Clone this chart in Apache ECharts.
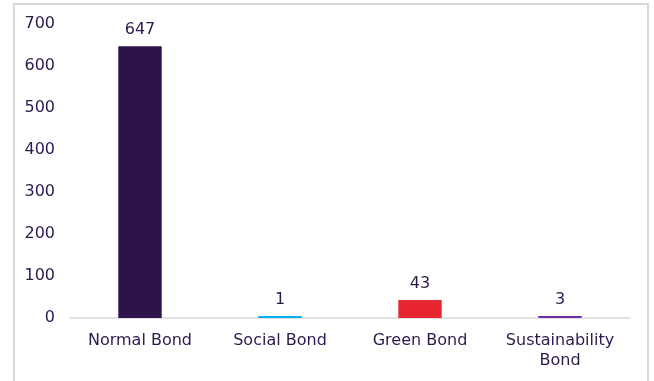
<!DOCTYPE html>
<html>
<head>
<meta charset="utf-8">
<script src="https://cdn.jsdelivr.net/npm/echarts@6/dist/echarts.min.js"></script>
<style>
  html, body { margin: 0; padding: 0; background: #fff; }
  #main { width: 654px; height: 381px; }
</style>
</head>
<body>
<div id="main"></div>
<script>
var categories = ['Normal Bond', 'Social Bond', 'Green Bond', 'Sustainability\nBond'];
var values = [647, 1, 43, 3];
var barColors = ['#2c1349', '#00b0f0', '#e8262f', '#7030a0'];

var chart = echarts.init(document.getElementById('main'));
var textColor = '#2c1a4f';
var font = 'DejaVu Sans';

var option = {
  animation: false,
  graphic: [{
    type: 'rect',
    shape: { x: 14, y: 4, width: 634, height: 400 },
    style: { fill: 'none', stroke: '#d9d9d9', lineWidth: 2 }
  }],
  grid: { left: 70, right: 24, top: 24, bottom: 63 },
  xAxis: {
    type: 'category',
    data: categories,
    axisLine: { lineStyle: { color: '#d9d9d9', width: 1.5 } },
    axisTick: { show: false },
    axisLabel: { color: textColor, fontSize: 16, fontFamily: font, margin: 13, lineHeight: 20, interval: 0 }
  },
  yAxis: {
    type: 'value',
    min: 0, max: 700, interval: 100,
    splitLine: { show: false },
    axisLine: { show: false },
    axisTick: { show: false },
    axisLabel: { color: textColor, fontSize: 16, fontFamily: font, margin: 15 }
  },
  series: [{
    type: 'bar',
    barWidth: '31%',
    barMinHeight: 2,
    data: values.map(function (v, i) {
      return { value: v, itemStyle: { color: barColors[i] } };
    }),
    label: {
      show: true, position: 'top', distance: 8,
      color: textColor, fontSize: 16, fontFamily: font
    }
  }]
};
chart.setOption(option);
</script>
</body>
</html>
